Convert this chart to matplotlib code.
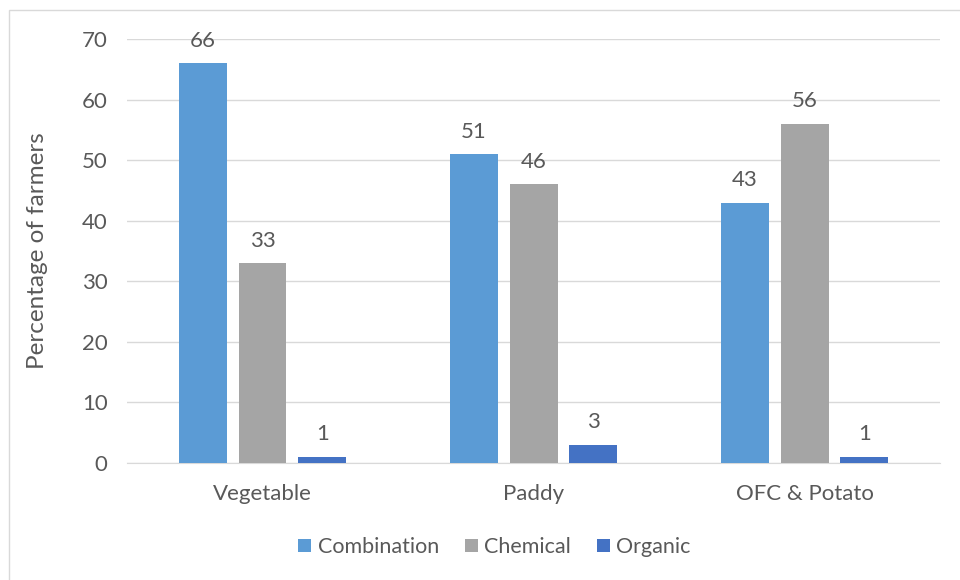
import matplotlib.pyplot as plt
import numpy as np
from matplotlib.patches import Rectangle

# Datos
crops = ['Vegetable', 'Paddy', 'OFC & Potato']
combination = [66, 51, 43]
chemical = [33, 46, 56]
organic = [1, 3, 1]

series = [('Combination', combination, '#5B9BD5'),
          ('Chemical', chemical, '#A5A5A5'),
          ('Organic', organic, '#4472C4')]

plt.rcParams['font.family'] = ['Lato', 'DejaVu Sans']
text_color = '#595959'

fig = plt.figure(figsize=(9.6, 5.8), dpi=100)
ax = fig.add_axes([0.1323, 0.2017, 0.8469, 0.7311])

# Marco gris alrededor del gráfico
fig.patches.append(Rectangle((9 / 960, -0.05), 1.1, 1 - 10 / 580 + 0.05,
                             transform=fig.transFigure, fill=False,
                             edgecolor='#D9D9D9', linewidth=1))

x = np.arange(len(crops))
width = 0.177
step = 0.221

for i, (name, vals, color) in enumerate(series):
    pos = x + (i - 1) * step
    ax.bar(pos, vals, width, color=color, label=name, zorder=3)
    for px, v in zip(pos, vals):
        ax.annotate(f'{v}', (px, v), xytext=(0, 9), textcoords='offset points',
                    ha='center', va='bottom', fontsize=16, color=text_color)

ax.set_xlim(-0.5, 2.5)
ax.set_ylim(0, 70)
ax.set_yticks(range(0, 71, 10))
ax.set_xticks(x)
ax.set_xticklabels(crops)
ax.grid(axis='y', color='#D9D9D9', linewidth=1, zorder=0)
ax.tick_params(axis='both', length=0, labelsize=16, colors=text_color)
ax.tick_params(axis='y', pad=14)
ax.tick_params(axis='x', pad=15)
for s in ['top', 'right', 'left']:
    ax.spines[s].set_visible(False)
ax.spines['bottom'].set_color('#D9D9D9')
ax.set_ylabel('Percentage of farmers', fontsize=17.5, color=text_color, labelpad=24)

fig.legend(loc='center', bbox_to_anchor=(0.515, 0.057), ncol=3, frameon=False,
           fontsize=15.5, labelcolor=text_color, handlelength=0.6, handleheight=0.6,
           handletextpad=0.3, columnspacing=1.2)

plt.savefig('out.png', dpi=100)
plt.close()
